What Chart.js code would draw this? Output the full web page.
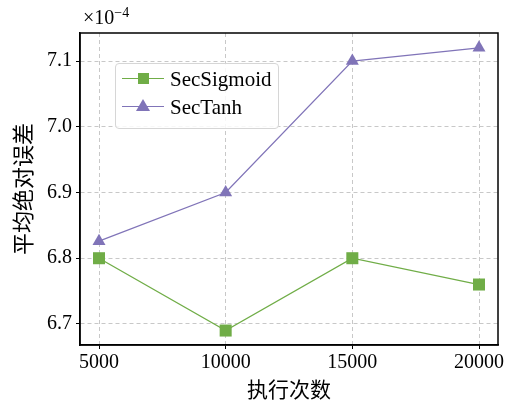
<!DOCTYPE html>
<html lang="zh">
<head>
  <meta charset="UTF-8">
  <title>平均绝对误差</title>
  <script src="https://cdn.jsdelivr.net/npm/chart.js"></script>
  <style>
    html, body { margin: 0; background: #fff; }
    #wrap { position: relative; width: 507px; height: 408px; }
    .txt { position: absolute; font-family: 'Liberation Serif', 'Noto Sans CJK SC', serif; color: #000; white-space: nowrap; }
    #expo { left: 83px; top: 5px; font-size: 20px; }
    #expo sup { font-size: 14px; vertical-align: 7px; }
    #legend {
      left: 115px; top: 63px; width: 162px; height: 64px;
      border: 1px solid #d6d6d6; border-radius: 4px; background: rgba(255,255,255,0.85);
    }
    .item { position: absolute; left: 6px; height: 24px; font-size: 21px; line-height: 24px; }
    .item .ln { position: absolute; left: 0; top: 11px; width: 42px; height: 1.3px; }
    .item .mk { position: absolute; }
    .item span.lbl { position: absolute; left: 48px; top: 0; }
  </style>
</head>
<body>
  <div id="wrap">
    <canvas id="chart" width="507" height="408"></canvas>
    <div class="txt" id="expo">×10<sup>−4</sup></div>
    <div class="txt" id="legend"></div>
  </div>

  <script>
    // values in units of 1e-4
    const runs = [5000, 10000, 15000, 20000];
    const secSigmoid = [6.80, 6.69, 6.80, 6.76];
    const secTanh = [6.826, 6.90, 7.10, 7.12];
    const yTicks = [6.7, 6.8, 6.9, 7.0, 7.1];

    const green = '#70ad47';
    const purple = '#8074b8';
    const font = "'Liberation Serif', 'Noto Sans CJK SC', serif";

    const series = [
      { label: 'SecSigmoid', data: secSigmoid, color: green, style: 'rect', radius: 8.5 },
      { label: 'SecTanh', data: secTanh, color: purple, style: 'triangle', radius: 7.5 }
    ];

    // legend in the top-left of the plot
    const legend = document.getElementById('legend');
    series.forEach((s, i) => {
      const it = document.createElement('div');
      it.className = 'item';
      it.style.top = (3 + i * 28) + 'px';
      const mk = s.style === 'rect'
        ? `<div class="mk" style="left:16px;top:6px;width:11px;height:11px;background:${s.color}"></div>`
        : `<div class="mk" style="left:14px;top:4px;width:0;height:0;border-left:7px solid transparent;border-right:7px solid transparent;border-bottom:12px solid ${s.color}"></div>`;
      it.innerHTML = `<div class="ln" style="background:${s.color}"></div>${mk}<span class="lbl">${s.label}</span>`;
      legend.appendChild(it);
    });

    const frame = {
      id: 'frame',
      afterDatasetsDraw(chart) {
        const a = chart.chartArea, c = chart.ctx;
        c.save();
        c.strokeStyle = '#000';
        c.lineWidth = 1.5;
        c.strokeRect(a.left, a.top, a.right - a.left, a.bottom - a.top);
        c.restore();
      }
    };

    new Chart(document.getElementById('chart'), {
      type: 'line',
      data: {
        datasets: series.map(s => ({
          label: s.label,
          data: runs.map((x, i) => ({ x, y: s.data[i] })),
          borderColor: s.color,
          backgroundColor: s.color,
          borderWidth: 1.3,
          pointStyle: s.style,
          pointRadius: s.radius,
          pointBorderWidth: 0,
          tension: 0
        }))
      },
      options: {
        responsive: false,
        animation: false,
        layout: { padding: { top: 33, right: 9, left: 0, bottom: 0 } },
        plugins: { legend: { display: false }, tooltip: { enabled: false } },
        scales: {
          x: {
            type: 'linear',
            min: 4250, max: 20750,
            afterBuildTicks: s => { s.ticks = runs.map(v => ({ value: v })); },
            afterFit: s => { s.height = 63; },
            grid: { color: '#c8c8c8', tickColor: '#000', tickLength: 4 },
            border: { dash: [4, 3], color: '#000', width: 1.5 },
            ticks: { color: '#000', font: { family: font, size: 20 }, padding: 2, maxRotation: 0, callback: v => String(v) },
            title: { display: true, text: '执行次数', color: '#000', font: { family: font, size: 21 }, padding: { top: 4 } }
          },
          y: {
            min: 6.668, max: 7.1426,
            afterBuildTicks: s => { s.ticks = yTicks.map(v => ({ value: v })); },
            afterFit: s => { s.width = 80; },
            grid: { color: '#c8c8c8', tickColor: '#000', tickLength: 4 },
            border: { dash: [4, 3], color: '#000', width: 1.5 },
            ticks: { color: '#000', font: { family: font, size: 20 }, padding: 4, callback: v => v.toFixed(1) },
            title: { display: true, text: '平均绝对误差', color: '#000', font: { family: font, size: 22 }, padding: { bottom: 0, top: 12 } }
          }
        }
      },
      plugins: [frame]
    });
  </script>
</body>
</html>
